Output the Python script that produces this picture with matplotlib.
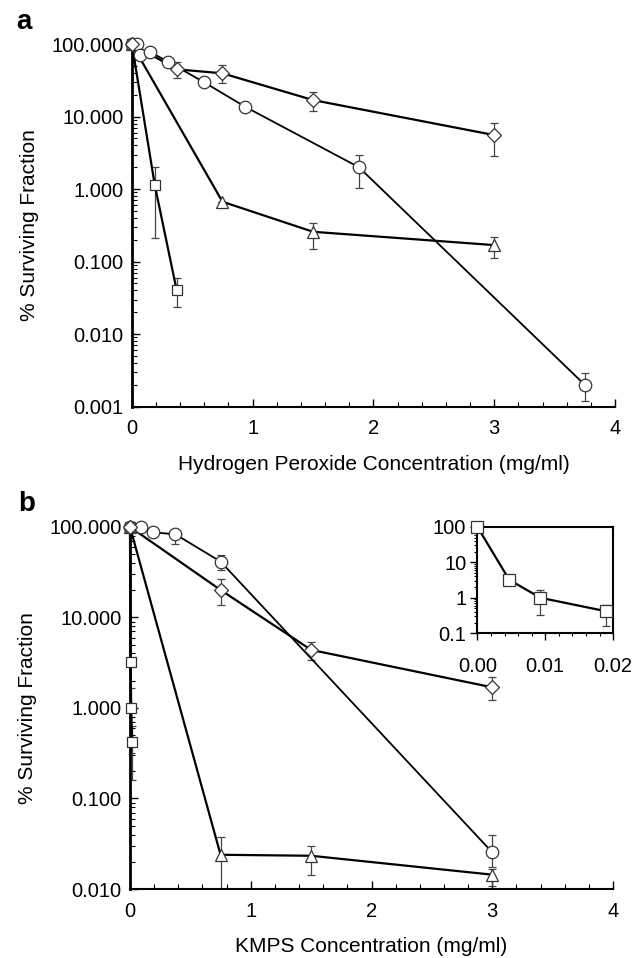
import matplotlib

matplotlib.use("Agg")
import matplotlib.pyplot as plt
import numpy as np
from matplotlib.ticker import FixedLocator, FormatStrFormatter, LogLocator, MultipleLocator, NullFormatter

nan = np.nan

# panel a: hydrogen peroxide
circ_a_x = [0, 0.04, 0.07, 0.15, 0.30, 0.60, 0.94, 1.88, 3.75]
circ_a_y = [100, 100, 70, 78, 57, 29.6, 13.6, 2.0, 0.0020]
circ_a_lo = [nan, nan, nan, nan, nan, nan, nan, 1.02, 0.0012]
circ_a_hi = [nan, nan, nan, nan, nan, nan, nan, 2.94, 0.0029]

diam_a_x = [0, 0.375, 0.75, 1.5, 3.0]
diam_a_y = [100, 44.8, 39.5, 16.9, 5.56]
diam_a_lo = [nan, 33.7, 28.7, 12.0, 2.85]
diam_a_hi = [nan, 57, 51, 21.5, 8.05]

tri_a_x = [0, 0.75, 1.5, 3.0]
tri_a_y = [100, 0.67, 0.258, 0.169]
tri_a_lo = [nan, nan, 0.147, 0.113]
tri_a_hi = [nan, nan, 0.343, 0.216]

sq_a_x = [0, 0.19, 0.37]
sq_a_y = [100, 1.13, 0.041]
sq_a_lo = [nan, 0.21, 0.024]
sq_a_hi = [nan, 2.03, 0.059]

# panel b: KMPS
circ_b_x = [0, 0.09, 0.19, 0.375, 0.75, 3.0]
circ_b_y = [100, 100, 87, 83, 41.4, 0.0254]
circ_b_lo = [nan, nan, nan, 64, 33, 0.0173]
circ_b_hi = [nan, nan, nan, nan, 49, 0.0398]

diam_b_x = [0, 0.75, 1.5, 3.0]
diam_b_y = [100, 20.1, 4.38, 1.69]
diam_b_lo = [nan, 13.7, 3.4, 1.22]
diam_b_hi = [nan, 26.3, 5.3, 2.2]

tri_b_x = [0, 0.75, 1.5, 3.0]
tri_b_y = [100, 0.0239, 0.0233, 0.0144]
tri_b_lo = [nan, 0.0101, 0.0144, 0.0109]
tri_b_hi = [nan, 0.038, 0.030, 0.0166]

sq_b_x = [0, 0.0047, 0.0093, 0.0189]
sq_b_y = [100, 3.2, 1.0, 0.42]
sq_b_lo = [nan, nan, 0.32, 0.16]
sq_b_hi = [nan, nan, 1.65, 0.63]

plt.rcParams["font.family"] = ["Liberation Sans", "DejaVu Sans"]

MARKERS = {"o": 9, "D": 7.5, "^": 8.5, "s": 7}


def yerr(y, lo, hi):
    y = np.asarray(y, float)
    lo = np.asarray(lo, float)
    hi = np.asarray(hi, float)
    lower = np.where(np.isnan(lo), 0, y - lo)
    upper = np.where(np.isnan(hi), 0, hi - y)
    return np.vstack([lower, upper])


def series(ax, x, y, lo, hi, marker, lw=1.6, ms=None):
    ax.errorbar(x, y, yerr=yerr(y, lo, hi), fmt="none", ecolor="#444444",
                elinewidth=0.9, capsize=3, capthick=0.9, zorder=2)
    ax.plot(x, y, color="black", lw=lw, zorder=3, clip_on=False)
    ax.plot(x, y, ls="none", marker=marker, ms=ms or MARKERS[marker],
            mfc="white", mec="#333333", mew=0.9, zorder=4, clip_on=False)


def style_main(ax, ymin, xlabel):
    ax.set_yscale("log")
    ax.set_xlim(0, 4)
    ax.set_ylim(ymin, 100)
    for s in ("top", "right"):
        ax.spines[s].set_visible(False)
    ax.spines["left"].set_linewidth(2.0)
    ax.spines["bottom"].set_linewidth(1.5)
    ax.xaxis.set_major_locator(MultipleLocator(1))
    ax.xaxis.set_minor_locator(MultipleLocator(0.2))
    ax.xaxis.set_major_formatter(FormatStrFormatter("%d"))
    major = [10.0 ** k for k in range(int(np.log10(ymin)), 3)]
    ax.yaxis.set_major_locator(FixedLocator(major))
    ax.yaxis.set_major_formatter(FormatStrFormatter("%.3f"))
    ax.yaxis.set_minor_locator(LogLocator(base=10, subs=np.arange(2, 10)))
    ax.yaxis.set_minor_formatter(NullFormatter())
    ax.tick_params(which="major", direction="in", length=6, width=1.0,
                   labelsize=14.5, pad=6)
    ax.tick_params(which="minor", direction="in", length=3.5, width=0.8)
    ax.tick_params(axis="x", which="major", pad=9)
    ax.set_xlabel(xlabel, fontsize=15, labelpad=12)
    ax.set_ylabel("% Surviving Fraction", fontsize=15, labelpad=9)


fig = plt.figure(figsize=(6.34, 9.58), dpi=100)
ax_a = fig.add_axes([0.208, 0.5755, 0.762, 0.3785])
ax_b = fig.add_axes([0.205, 0.072, 0.762, 0.378])
ax_in = fig.add_axes([0.753, 0.339, 0.214, 0.111])

series(ax_a, sq_a_x, sq_a_y, sq_a_lo, sq_a_hi, "s")
series(ax_a, tri_a_x, tri_a_y, tri_a_lo, tri_a_hi, "^")
series(ax_a, circ_a_x, circ_a_y, circ_a_lo, circ_a_hi, "o", lw=1.3)
series(ax_a, diam_a_x, diam_a_y, diam_a_lo, diam_a_hi, "D")
style_main(ax_a, 0.001, "Hydrogen Peroxide Concentration (mg/ml)")

series(ax_b, sq_b_x, sq_b_y, sq_b_lo, sq_b_hi, "s")
series(ax_b, tri_b_x, tri_b_y, tri_b_lo, tri_b_hi, "^")
series(ax_b, circ_b_x, circ_b_y, circ_b_lo, circ_b_hi, "o", lw=1.3)
series(ax_b, diam_b_x, diam_b_y, diam_b_lo, diam_b_hi, "D")
style_main(ax_b, 0.01, "KMPS Concentration (mg/ml)")

# inset
series(ax_in, sq_b_x, sq_b_y, sq_b_lo, sq_b_hi, "s", ms=9)
ax_in.set_yscale("log")
ax_in.set_xlim(0, 0.02)
ax_in.set_ylim(0.1, 100)
for s in ax_in.spines.values():
    s.set_linewidth(1.5)
ax_in.xaxis.set_major_locator(MultipleLocator(0.01))
ax_in.xaxis.set_minor_locator(MultipleLocator(0.002))
ax_in.xaxis.set_major_formatter(FormatStrFormatter("%.2f"))
ax_in.yaxis.set_major_locator(FixedLocator([0.1, 1, 10, 100]))
ax_in.yaxis.set_major_formatter(FormatStrFormatter("%g"))
ax_in.yaxis.set_minor_locator(LogLocator(base=10, subs=np.arange(2, 10)))
ax_in.yaxis.set_minor_formatter(NullFormatter())
ax_in.tick_params(which="major", direction="out", length=5, width=1.0,
                  labelsize=14.5, pad=3)
ax_in.tick_params(which="minor", direction="out", length=2.5, width=0.8)
ax_in.tick_params(axis="x", which="major", pad=12)

fig.text(0.025, 0.977, "a", fontsize=20, fontweight="bold", va="center")
fig.text(0.028, 0.474, "b", fontsize=20, fontweight="bold", va="center")

fig.savefig("out.png", dpi=100)
